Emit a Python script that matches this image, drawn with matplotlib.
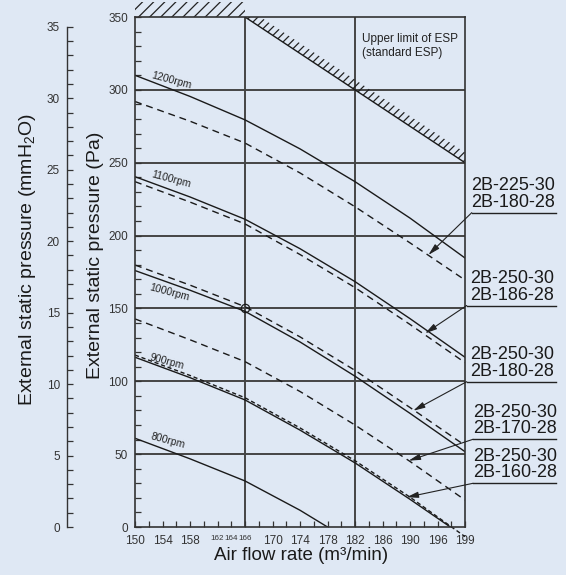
import numpy as np
import matplotlib.pyplot as plt

plt.rcParams['font.family'] = ['Liberation Sans', 'DejaVu Sans']
plt.rcParams['mathtext.default'] = 'regular'
plt.rcParams['hatch.linewidth'] = 0.9
plt.rcParams['hatch.color'] = '#222222'

bg = '#dfe8f4'
W, H = 566, 575

# the flow axis is not linear: equally spaced ticks carry these values
tick_vals = [150, 152, 154, 156, 158, 160, 162, 164, 166, 168, 170, 172, 174,
             176, 178, 180, 182, 184, 186, 188, 190, 193, 196, 197.5, 199]
tick_labels = [150, 154, 158, 162, 164, 166, 170, 174, 178, 182, 186, 190, 196, 199]

def xpos(v):
    return np.interp(v, tick_vals, np.arange(len(tick_vals)))

flow = [150, 158, 166, 174, 182, 190, 199]
rpm1200 = [310, 295.5, 279.4, 259.5, 237, 212, 184.6]
dash1200 = [292, 278.5, 263.5, 243, 219.8, 195, 169.5]
rpm1100 = [240.4, 226.5, 211.2, 191, 168.4, 143, 116.5]
dash1100 = [237, 223, 208, 187, 164.3, 139, 112.8]
rpm1000 = [176, 162.5, 148, 127, 103.5, 78, 51.7]
dash1000 = [179.8, 166, 151.2, 130.5, 107.5, 82, 56]
dash900_upper = [142.8, 128.5, 113.5, 93, 70, 45, 18.5]
flow900 = [150, 158, 166, 174, 182, 190, 197.4]
rpm900 = [116.5, 102.5, 87.2, 66.5, 44, 19, 0]
dash900 = [118, 104, 88.7, 68, 45.5, 20.5, -6.6]
flow800 = [150, 158, 166, 174, 178]
rpm800 = [60.9, 46.8, 31.6, 11.5, 0]

limit_flow = [166, 199]
limit_esp = [350, 250]

rpm_names = ['1200rpm', '1100rpm', '1000rpm', '900rpm', '800rpm']
rpm_label_pos = [(0.109, 0.876), (0.109, 0.682), (0.103, 0.459), (0.097, 0.325), (0.100, 0.169)]

models = ['2B-225-30\n2B-180-28', '2B-250-30\n2B-186-28', '2B-250-30\n2B-180-28',
          '2B-250-30\n2B-170-28', '2B-250-30\n2B-160-28']
arrow_tip_flow = [194.0, 193.3, 190.7, 189.8, 189.5]
arrow_tip_esp = [186.7, 132.9, 79.8, 45.5, 20.4]
# underline left end / y, and text left, in pixels
label_px = [(471.7, 212.7), (466.7, 305.5), (466.7, 381.7), (473.0, 439.3), (473.0, 483.3)]
text_left_px = [471.5, 470.0, 470.0, 473.0, 473.0]

fig = plt.figure(figsize=(W / 100, H / 100), dpi=100)
fig.patch.set_facecolor(bg)
ax = fig.add_axes([135 / W, 48 / H, 330 / W, 510 / H])
ax.set_facecolor(bg)
ax.set_xlim(0, len(tick_vals) - 1)
ax.set_ylim(0, 350)

def ax_frac(px, py):
    return (px - 135) / 330, (527 - py) / 510

# grid
for g in range(50, 301, 50):
    ax.axhline(g, color='#454545', lw=1.4, zorder=1)
for g in [166, 182]:
    ax.axvline(xpos(g), color='#454545', lw=1.4, zorder=1)

# curves
lw = 1.0
ink = '#1a1a1a'
dash = (0, (5, 3.5))
ax.plot(xpos(flow), rpm1200, color=ink, lw=lw)
ax.plot(xpos(flow), dash1200, color=ink, lw=lw, ls=dash)
ax.plot(xpos(flow), rpm1100, color=ink, lw=lw)
ax.plot(xpos(flow), dash1100, color=ink, lw=lw, ls=dash)
ax.plot(xpos(flow), rpm1000, color=ink, lw=lw)
ax.plot(xpos(flow), dash1000, color=ink, lw=lw, ls=dash)
ax.plot(xpos(flow), dash900_upper, color=ink, lw=lw, ls=dash)
ax.plot(xpos(flow900), rpm900, color=ink, lw=lw)
ax.plot(xpos(flow), dash900, color=ink, lw=lw, ls=(0, (3, 2)), clip_on=False)
ax.plot(xpos(flow800), rpm800, color=ink, lw=lw)

ax.plot(xpos(166), 150, marker='o', ms=6, mfc='none', mec=ink, mew=0.9)

for name, (fx, fy) in zip(rpm_names, rpm_label_pos):
    ax.text(fx, fy, name, transform=ax.transAxes, fontsize=7.5, rotation=-15,
            ha='center', va='center', color='#222222')

# upper limit of ESP
lx = xpos(limit_flow)
ax.plot(lx, limit_esp, color=ink, lw=1.0)
ax.fill_between(lx, limit_esp, np.array(limit_esp) + 7, facecolor='none',
                edgecolor='#222222', lw=0, hatch='////')
ax.fill_between([xpos(150), xpos(166)], 350, 360, facecolor='none',
                edgecolor='#222222', lw=0, hatch='///', clip_on=False)
tx, ty = ax_frac(362, 33)
ax.text(tx, ty, 'Upper limit of ESP\n(standard ESP)', transform=ax.transAxes,
        fontsize=8.5, ha='left', va='top', linespacing=1.25, color='#222222')

# model labels with arrows
for text, f, e, (px, py), tpx in zip(models, arrow_tip_flow, arrow_tip_esp,
                                    label_px, text_left_px):
    x0, y0 = ax_frac(px, py)
    x1, _ = ax_frac(556, py)
    xt, _ = ax_frac(tpx, py)
    ax.plot([x0, x1], [y0, y0], transform=ax.transAxes, color='#222222', lw=1.0, clip_on=False)
    ax.text(xt, y0 + 2 / 510, text, transform=ax.transAxes, fontsize=13,
            ha='left', va='bottom', linespacing=0.95, color=ink)
    ax.annotate('', xy=(xpos(f), e), xycoords='data', xytext=(x0, y0),
                textcoords='axes fraction',
                arrowprops=dict(arrowstyle='-|>,head_length=0.7,head_width=0.18',
                                color='#222222', lw=0.8, shrinkA=0, shrinkB=0))

# axes styling
for s in ax.spines.values():
    s.set_color('#333333')
    s.set_linewidth(1.2)
ax.set_yticks(range(0, 351, 50))
ax.set_yticks(range(0, 351, 10), minor=True)
ax.tick_params(axis='y', which='both', direction='in', length=4, width=0.9,
               labelsize=8.5, pad=5, colors='#333333')
ax.set_xticks(np.arange(len(tick_vals)))
ax.set_xticklabels([str(v) if v in tick_labels else '' for v in tick_vals])
ax.tick_params(axis='x', direction='in', length=4, width=0.9, labelsize=8.5,
               pad=6, colors='#333333')
# the three crowded labels are printed smaller in the original
for lab, v in zip(ax.get_xticklabels(), tick_vals):
    if v in (162, 164, 166):
        lab.set_fontsize(5.8)

# mmH2O scale on the far left
ax2 = fig.add_axes([67 / W, 48 / H, 0.0001, 510 / H])
ax2.set_facecolor('none')
ax2.set_ylim(0, 350 / 9.80665)
ax2.set_xticks([])
for k in ['top', 'right', 'bottom']:
    ax2.spines[k].set_visible(False)
ax2.spines['left'].set_bounds(0, 35)
ax2.spines['left'].set_color('#333333')
ax2.spines['left'].set_linewidth(1.0)
ax2.set_yticks(range(0, 36, 5))
ax2.set_yticks(range(0, 36, 1), minor=True)
ax2.tick_params(axis='y', which='both', direction='in', length=4, width=0.9,
                labelsize=8.5, pad=5, colors='#333333')

fig.text(96 / W, 1 - 255 / H, 'External static pressure (Pa)', rotation=90,
         ha='center', va='center', fontsize=14, color=ink)
fig.text(28 / W, 1 - 260 / H, 'External static pressure (mmH$_2$O)', rotation=90,
         ha='center', va='center', fontsize=14, color=ink)
fig.text(301 / W, 1 - 556 / H, 'Air flow rate (m\u00b3/min)', ha='center',
         va='center', fontsize=13.5, color=ink)

fig.savefig('out.png', dpi=100, facecolor=bg)
